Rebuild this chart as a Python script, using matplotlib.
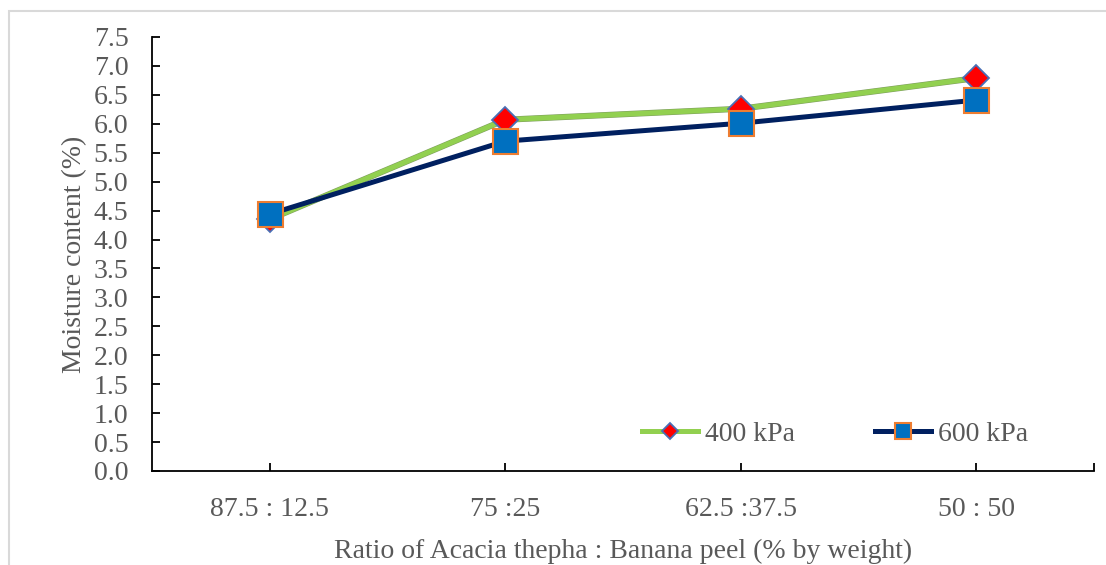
import matplotlib
matplotlib.use("Agg")
import matplotlib.pyplot as plt
import matplotlib.patheffects as pe
from matplotlib.lines import Line2D
from matplotlib.patches import Rectangle

# Data
ratios = ["87.5 : 12.5", "75 :25", "62.5 :37.5", "50 : 50"]
moisture_400 = [4.35, 6.07, 6.26, 6.79]
moisture_600 = [4.44, 5.70, 6.01, 6.41]
y_ticks = [0.0, 0.5, 1.0, 1.5, 2.0, 2.5, 3.0, 3.5, 4.0, 4.5, 5.0, 5.5, 6.0, 6.5, 7.0, 7.5]

plt.rcParams["font.family"] = ["Liberation Serif", "DejaVu Serif"]
text_color = "#595959"
fs = 20

fig = plt.figure(figsize=(11.06, 5.65), dpi=100)
fig.patch.set_facecolor("white")

# chart area border
fig.patches.append(Rectangle((9 / 1106, -0.05), 1.2, (565 - 11) / 565 + 0.05,
                             transform=fig.transFigure, fill=False,
                             edgecolor="#D9D9D9", linewidth=1.5, zorder=0))

ax = fig.add_axes([152 / 1106, 1 - 471 / 565, (1094 - 152) / 1106, (471 - 37) / 565])
x = list(range(len(ratios)))

style_400 = dict(color="#92D050", linewidth=3.6, marker="D", markersize=13.5,
                 markerfacecolor="#FF0000", markeredgecolor="#4A6FB5",
                 markeredgewidth=1.3)
style_600 = dict(color="#002060", linewidth=3.6, marker="s", markersize=18,
                 markerfacecolor="#0070C0", markeredgecolor="#ED7D31",
                 markeredgewidth=1.5)

# lines (green one with a thin darker outline), then markers on top
ax.plot(x, moisture_400, color=style_400["color"], linewidth=3.6,
        path_effects=[pe.Stroke(linewidth=4.4, foreground="#7F9F5F"), pe.Normal()],
        zorder=2)
ax.plot(x, moisture_600, color=style_600["color"], linewidth=3.6, zorder=3)
ax.plot(x, moisture_400, linestyle="none",
        **{k: v for k, v in style_400.items() if k not in ("color", "linewidth")},
        zorder=4)
ax.plot(x, moisture_600, linestyle="none",
        **{k: v for k, v in style_600.items() if k not in ("color", "linewidth")},
        zorder=5)

ax.set_xlim(-0.5, 3.5)
ax.set_ylim(0, 7.5)
ax.set_yticks(y_ticks)
ax.set_yticklabels([f"{v:.1f}" for v in y_ticks])
ax.set_xticks(x + [3.5])
ax.set_xticklabels(ratios + [""])

for s in ["top", "right"]:
    ax.spines[s].set_visible(False)
for s in ["left", "bottom"]:
    ax.spines[s].set_linewidth(1.3)
    ax.spines[s].set_color("black")

ax.tick_params(axis="y", direction="in", length=6, width=1.3, pad=17,
               labelsize=fs, labelcolor=text_color)
ax.tick_params(axis="x", direction="in", length=6, width=1.3, pad=19,
               labelsize=fs, labelcolor=text_color)

ax.set_ylabel("Moisture content (%)", fontsize=fs, color=text_color, labelpad=5)
ax.set_xlabel("Ratio of Acacia thepha : Banana peel (% by weight)", fontsize=fs,
              color=text_color, labelpad=12)

handles = [Line2D([], [], **style_400), Line2D([], [], **style_600)]
leg = ax.legend(handles, ["400 kPa", "600 kPa"], loc="center",
                bbox_to_anchor=(0.725, 0.085), ncol=2, frameon=False,
                fontsize=fs, handlelength=2.0, handletextpad=0.25,
                columnspacing=2.9, markerscale=0.62)
for t in leg.get_texts():
    t.set_color(text_color)

fig.savefig("out.png", dpi=100)
